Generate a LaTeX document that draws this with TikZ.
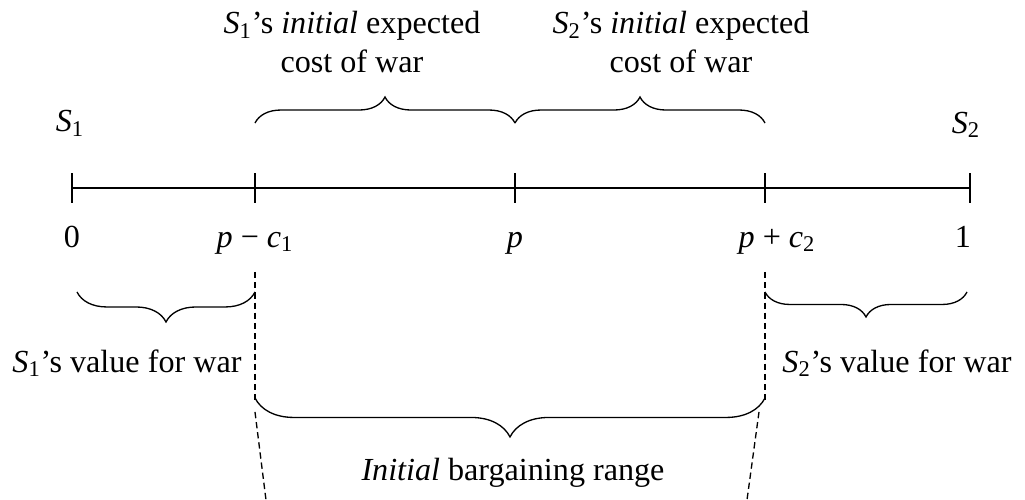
\documentclass[tikz,border=0pt]{standalone}
\usepackage{fontspec}
\setmainfont{Liberation Serif}
\usetikzlibrary{decorations.pathreplacing}

\begin{document}
\begin{tikzpicture}[x=0.02cm, y=-0.02cm, line width=0.8pt,
  lbl/.style={anchor=base, inner sep=0pt, font=\fontsize{18.3}{22}\selectfont},
  brc/.style={decorate, decoration={brace, amplitude=#1, aspect=0.5}, line width=0.75pt},
  guide/.style={dash pattern=on 3.6pt off 2.2pt, line width=0.75pt}]
  \useasboundingbox (0,0) rectangle (1025,500);
  % axis
  \foreach \x/\n in {72/zero,255/low,515/mid,765/high,970/one}
    \coordinate (\n) at (\x,188);
  \draw (zero) -- (one);
  \foreach \n in {zero,low,mid,high,one}
    \draw ([yshift=0.3cm]\n) -- ([yshift=-0.3cm]\n);
  % players and tick labels
  \node[lbl] (sone) at (70,132) {\textit{S}\textsubscript{1}};
  \node[lbl] (stwo) at (966,133) {\textit{S}\textsubscript{2}};
  \node[lbl] (tzero) at (72,247) {0};
  \node[lbl] (tlow) at (255,247) {\textit{p} − \textit{c}\textsubscript{1}};
  \node[lbl] (tmid) at (515,247) {\textit{p}};
  \node[lbl] (thigh) at (777,247) {\textit{p} + \textit{c}\textsubscript{2}};
  \node[lbl] (tone) at (963,247) {1};
  % costs of war
  \draw[brc=0.52cm] ([yshift=1.3cm]low) -- ([yshift=1.3cm]mid);
  \draw[brc=0.52cm] ([yshift=1.3cm]mid) -- ([yshift=1.3cm]high);
  \node[lbl, anchor=center, align=center] (costone) at (352,42)
    {\textit{S}\textsubscript{1}’s \textit{initial} expected\\cost of war};
  \node[lbl, anchor=center, align=center] (costtwo) at (681,42)
    {\textit{S}\textsubscript{2}’s \textit{initial} expected\\cost of war};
  % values for war
  \draw[brc=0.6cm] ([yshift=-2.08cm]low) -- ([shift={(0.1cm,-2.08cm)}]zero);
  \draw[brc=0.5cm] ([shift={(-0.06cm,-2.08cm)}]one) -- ([yshift=-2.08cm]high);
  \node[lbl] (valone) at (127,372) {\textit{S}\textsubscript{1}’s value for war};
  \node[lbl] (valtwo) at (897,372) {\textit{S}\textsubscript{2}’s value for war};
  % bargaining range
  \draw[guide] ([yshift=-1.68cm]low) -- ([yshift=-4.24cm]low);
  \draw[guide] ([yshift=-4.48cm]low) -- ([shift={(0.22cm,-6.24cm)}]low);
  \draw[guide] ([yshift=-1.68cm]high) -- ([yshift=-4.24cm]high);
  \draw[guide] ([shift={(-0.12cm,-4.48cm)}]high) -- ([shift={(-0.36cm,-6.24cm)}]high);
  \draw[brc=0.78cm] ([yshift=-4.2cm]high) -- ([yshift=-4.2cm]low);
  \node[lbl] (range) at (513,480) {\textit{Initial} bargaining range};
\end{tikzpicture}
\end{document}
